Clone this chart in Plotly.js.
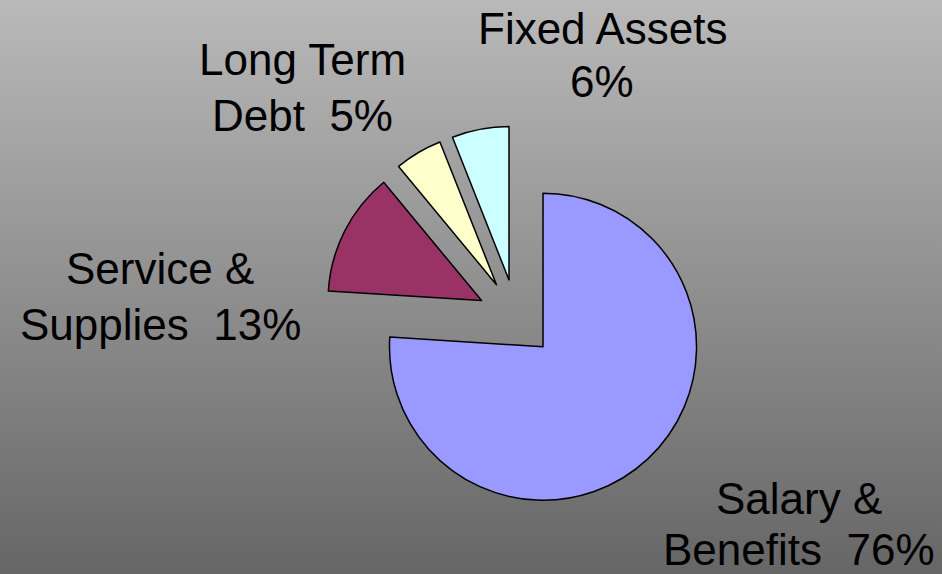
<!DOCTYPE html>
<html>
<head>
<meta charset="utf-8">
<script src="https://cdn.plot.ly/plotly-3.0.1.min.js"></script>
<style>
  html, body { margin: 0; padding: 0; }
  body { width: 942px; height: 574px; overflow: hidden;
         background: linear-gradient(to bottom, #b9b9b9 0%, #666666 100%); }
  #chart { width: 942px; height: 574px; }
</style>
</head>
<body>
<div id="chart"></div>
<script>
// ---- data ----
const categories = ["Salary & Benefits", "Service & Supplies", "Long Term Debt", "Fixed Assets"];
const values = [76, 13, 5, 6];
const labelFirstLine = ["Salary &", "Service &", "Long Term", "Fixed Assets"];
const labelSecondLine = ["Benefits", "Supplies", "Debt", ""];
const colors = ["#9999FF", "#993366", "#FFFFCC", "#CCFFFF"];

// ---- label layout (pixels from top-left of the 942x574 figure) ----
const W = 942, H = 574, FONT = 44;
const labelCenterX = [799, 160, 302, 602];
const line1Baseline = [512, 282, 73.5, 42];
const line2Baseline = [563.5, 338.5, 129.5, 95.5];

const total = values.reduce((a, b) => a + b, 0);

const trace = {
  type: "pie",
  labels: categories,
  values: values,
  sort: false,
  direction: "clockwise",
  rotation: 0,
  pull: values.map(() => 0.254),
  textinfo: "none",
  hoverinfo: "label+percent",
  marker: { colors: colors, line: { color: "#000000", width: 1.5 } },
  domain: { x: [0.2827, 0.8135], y: [0.1101, 0.7809] },
  showlegend: false
};

function lineAnn(text, cx, baseline) {
  const mid = baseline - 0.31 * FONT;
  return {
    xref: "paper", yref: "paper",
    x: cx / W, y: 1 - mid / H,
    xanchor: "center", yanchor: "middle",
    align: "center",
    showarrow: false,
    text: text,
    font: { family: "Liberation Sans, Arial, sans-serif", size: FONT, color: "#000000" }
  };
}

const annotations = [];
categories.forEach((c, i) => {
  const pct = Math.round(values[i] / total * 100) + "%";
  const second = labelSecondLine[i] ? labelSecondLine[i] + "\u00a0 " + pct : pct;
  annotations.push(lineAnn(labelFirstLine[i], labelCenterX[i], line1Baseline[i]));
  annotations.push(lineAnn(second, labelCenterX[i], line2Baseline[i]));
});

const layout = {
  width: W, height: H,
  margin: { l: 0, r: 0, t: 0, b: 0 },
  paper_bgcolor: "rgba(0,0,0,0)",
  plot_bgcolor: "rgba(0,0,0,0)",
  showlegend: false,
  annotations: annotations
};

Plotly.newPlot("chart", [trace], layout, { displayModeBar: false, staticPlot: true });
</script>
</body>
</html>
